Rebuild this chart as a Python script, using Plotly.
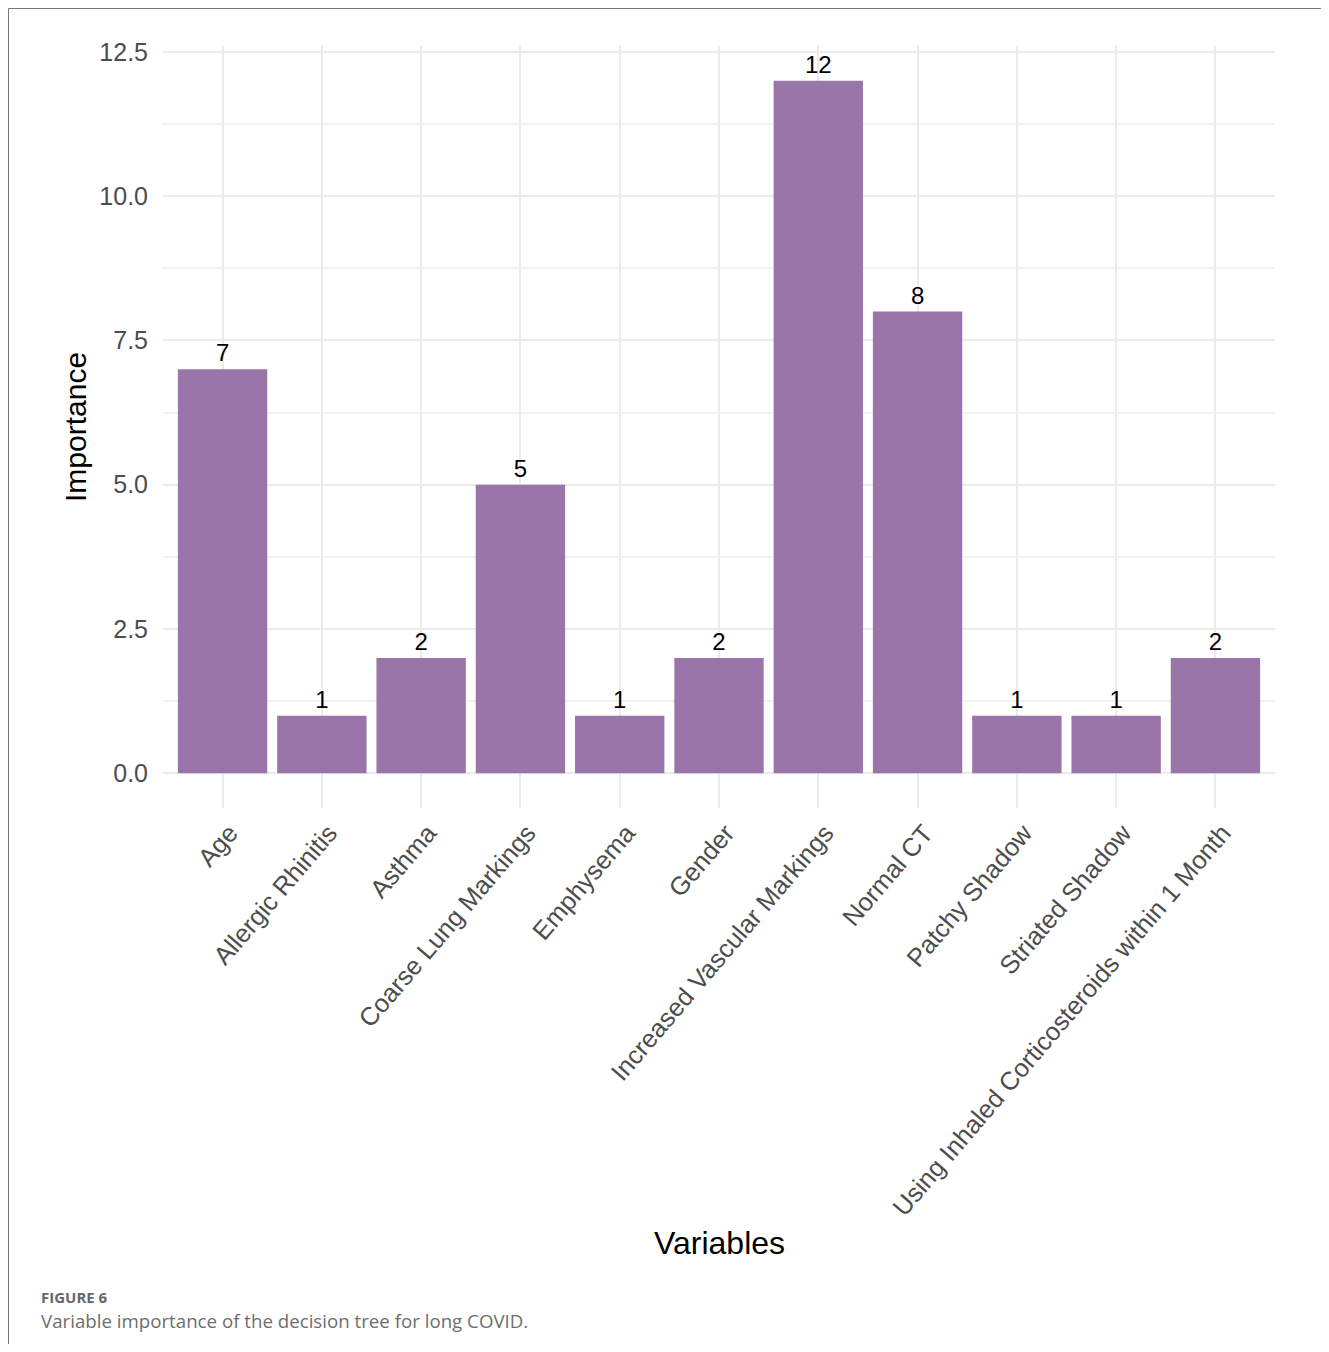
import plotly.graph_objects as go

categories = ["Age", "Allergic Rhinitis", "Asthma", "Coarse Lung Markings", "Emphysema",
              "Gender", "Increased Vascular Markings", "Normal CT", "Patchy Shadow",
              "Striated Shadow", "Using Inhaled Corticosteroids within 1 Month"]
importance = [7, 1, 2, 5, 1, 2, 12, 8, 1, 1, 2]
y_ticks = [0, 2.5, 5, 7.5, 10, 12.5]
y_tick_labels = ["0.0", "2.5", "5.0", "7.5", "10.0", "12.5"]

OFF = 8  # page body margin
W, H = 1313, 1336
L = 163 - OFF
T = 46 - OFF
R = W - (1275 - OFF)
B = H - (808 - OFF)
pw, ph = W - L - R, H - T - B

FONT = "Liberation Sans, Arial"

fig = go.Figure()
fig.add_trace(go.Bar(
    x=categories, y=importance,
    marker=dict(color="#9975AA", line=dict(width=0)),
    text=[str(v) for v in importance], textposition="outside",
    textfont=dict(family=FONT, size=24, color="black"),
    cliponaxis=False,
))

fig.update_layout(
    width=W, height=H,
    margin=dict(l=L, r=R, t=T, b=B),
    paper_bgcolor="white", plot_bgcolor="white",
    bargap=0.1, showlegend=False,
    font=dict(family=FONT, color="#4D4D4D"),
    xaxis=dict(
        range=[-0.6, 10.6], tickangle=-49.5, showgrid=True, gridcolor="#EBEBEB", gridwidth=2,
        zeroline=False, showline=False, ticks="", tickfont=dict(size=25.5, color="#4D4D4D"),
        ticklabelstandoff=4, ticklabelshift=7,
    ),
    yaxis=dict(
        range=[-0.6, 12.6], tickvals=y_ticks, ticktext=y_tick_labels,
        showgrid=True, gridcolor="#EBEBEB", gridwidth=2,
        minor=dict(dtick=1.25, showgrid=True, gridcolor="#F2F2F2", gridwidth=1.5),
        zeroline=False, showline=False, ticks="", ticklabelstandoff=14,
        tickfont=dict(size=25, color="#4D4D4D"),
    ),
)

def px_x(x):
    return (x - OFF - L) / pw

def px_y(y):
    return 1 - (y - OFF - T) / ph

fig.add_annotation(text="Importance", x=px_x(75), y=px_y(427), xref="paper", yref="paper",
                   textangle=-90, showarrow=False, font=dict(size=30, color="black"),
                   xanchor="center", yanchor="middle")
fig.add_annotation(text="Variables", x=px_x(719), y=px_y(1243), xref="paper", yref="paper",
                   showarrow=False, font=dict(size=32, color="black"),
                   xanchor="center", yanchor="middle")
fig.add_annotation(text="<b>FIGURE 6</b>", x=px_x(39), y=px_y(1297), xref="paper", yref="paper",
                   showarrow=False, font=dict(family="Open Sans, Noto Sans", size=15, color="#666666"),
                   xanchor="left", yanchor="middle")
fig.add_annotation(text="Variable importance of the decision tree for long COVID.",
                   x=px_x(39), y=px_y(1320), xref="paper", yref="paper",
                   showarrow=False, font=dict(family="Open Sans, Noto Sans", size=18.7, color="#6E6E6E"),
                   xanchor="left", yanchor="middle")

# frame around the figure
fig.add_shape(type="line", xref="paper", yref="paper",
              x0=px_x(8.5), x1=px_x(1340), y0=px_y(8.5), y1=px_y(8.5),
              line=dict(color="#777777", width=1))
fig.add_shape(type="line", xref="paper", yref="paper",
              x0=px_x(8.5), x1=px_x(8.5), y0=px_y(8.5), y1=px_y(1360),
              line=dict(color="#777777", width=1))

fig.write_html("out.html")
